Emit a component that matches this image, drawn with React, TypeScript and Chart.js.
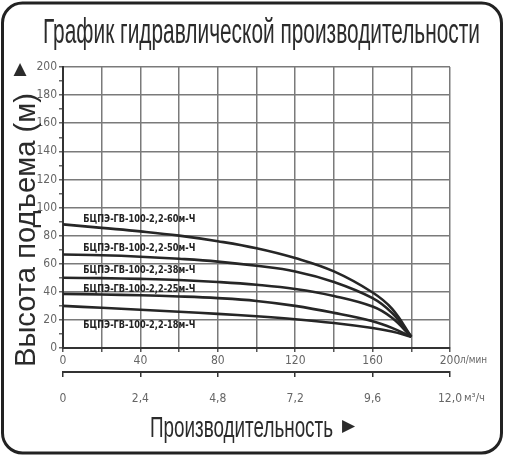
import { useEffect, useRef } from 'react';
import { Chart, registerables } from 'chart.js';

Chart.register(...registerables);

// flow, l/min
const flowLpm = [0, 20, 40, 60, 80, 100, 120, 140, 160, 170, 180];

// head (m) per pump model
const head60 = [88, 85.5, 83, 80, 76, 71, 64, 54.5, 39.5, 28, 8];
const head50 = [66.5, 66, 65, 63.5, 61.5, 58.5, 54.5, 47, 35.5, 25, 8];
const head38 = [50, 49.7, 49.2, 48.4, 47, 45, 42, 37, 29.5, 21.5, 8];
const head25 = [38.5, 38.1, 37.5, 36.7, 35.5, 33.5, 30, 25, 19, 14.3, 8];
const head18 = [30, 28.6, 27.2, 25.8, 24.3, 22.6, 20.5, 17.8, 14.2, 11.7, 8];

const modelNames = [
  'БЦПЭ-ГВ-100-2,2-60м-Ч',
  'БЦПЭ-ГВ-100-2,2-50м-Ч',
  'БЦПЭ-ГВ-100-2,2-38м-Ч',
  'БЦПЭ-ГВ-100-2,2-25м-Ч',
  'БЦПЭ-ГВ-100-2,2-18м-Ч',
];
const modelHeads = [head60, head50, head38, head25, head18];

// where each model name sits, in data units (flow, head)
const nameFlow = 10.5;
const nameHead = [92, 71, 55.5, 42, 16];

const cubicTickLabels = ['0', '2,4', '4,8', '7,2', '9,6', '12,0'];

const chartTitle = 'График гидравлической производительности';
const yTitle = 'Высота подъема (м)';
const xTitle = 'Производительность';

const NARROW = "'Liberation Sans Narrow', 'DejaVu Sans Condensed', 'Liberation Sans', sans-serif";
const SANS = "'Liberation Sans', Arial, sans-serif";

// draws text squeezed horizontally to a given width
function squeeze(ctx: CanvasRenderingContext2D, text: string, x: number, y: number, width: number) {
  const w = ctx.measureText(text).width;
  ctx.save();
  ctx.translate(x, y);
  ctx.scale(width / w, 1);
  ctx.textAlign = 'left';
  ctx.fillText(text, 0, 0);
  ctx.restore();
}

const decor = {
  id: 'decor',
  beforeDraw(chart: Chart) {
    const ctx = chart.ctx;
    ctx.save();
    ctx.fillStyle = '#fff';
    ctx.fillRect(0, 0, chart.width, chart.height);
    ctx.restore();
  },
  afterDraw(chart: Chart) {
    const ctx = chart.ctx;
    const x = chart.scales.x;
    const x2 = chart.scales.x2;
    const y = chart.scales.y;
    ctx.save();

    // frame
    ctx.strokeStyle = '#222';
    ctx.lineWidth = 3;
    ctx.beginPath();
    ctx.roundRect(2.5, 3, 499, 450, 20);
    ctx.stroke();

    // main title
    ctx.fillStyle = '#2b2b2b';
    ctx.textBaseline = 'alphabetic';
    ctx.font = `35px ${SANS}`;
    squeeze(ctx, chartTitle, 43, 43, 437);

    // x title
    ctx.font = `30px ${SANS}`;
    squeeze(ctx, xTitle, 150, 437, 183);
    ctx.font = `17px 'DejaVu Sans', sans-serif`;
    ctx.textBaseline = 'middle';
    ctx.fillText('▶', 342, 427);

    // y title
    ctx.save();
    ctx.translate(35, 367);
    ctx.rotate(-Math.PI / 2);
    ctx.font = `30px ${SANS}`;
    ctx.textBaseline = 'alphabetic';
    squeeze(ctx, yTitle, 0, 0, 274);
    ctx.restore();
    ctx.font = `17px 'DejaVu Sans', sans-serif`;
    ctx.textAlign = 'center';
    ctx.textBaseline = 'middle';
    ctx.fillText('▲', 20, 70);

    // units
    ctx.fillStyle = '#666';
    ctx.font = `10px ${NARROW}`;
    ctx.textBaseline = 'middle';
    squeeze(ctx, 'л/мин', x.getPixelForValue(200) + 10, 360, 27);
    squeeze(ctx, 'м³/ч', x2.getPixelForValue(12) + 14, 398, 21);

    // model names
    ctx.fillStyle = '#222';
    ctx.font = `bold 11px ${NARROW}`;
    modelNames.forEach((name, i) => {
      squeeze(ctx, name, x.getPixelForValue(nameFlow), y.getPixelForValue(nameHead[i]), 112);
    });

    ctx.restore();
  },
};

const gridColor = '#7a7a7a';
const tickFont = { family: NARROW, size: 12 };

const App = () => {
  const canvasRef = useRef<HTMLCanvasElement | null>(null);
  const chartRef = useRef<Chart | null>(null);

  useEffect(() => {
    if (!canvasRef.current) return;
    document.body.style.margin = '0';

    chartRef.current = new Chart(canvasRef.current, {
      type: 'line',
      data: {
        datasets: modelHeads.map((heads, i) => ({
          label: modelNames[i],
          data: flowLpm.map((f, j) => ({ x: f, y: heads[j] })),
          borderColor: '#262626',
          borderWidth: 2.6,
          pointRadius: 0,
          tension: 0.4,
          fill: false,
        })),
      },
      options: {
        animation: false,
        responsive: false,
        layout: { padding: { left: 28, right: 58, top: 67, bottom: 54 } },
        plugins: {
          legend: { display: false },
          tooltip: { enabled: false },
        },
        scales: {
          x: {
            type: 'linear',
            position: 'bottom',
            min: 0,
            max: 200,
            ticks: {
              stepSize: 20,
              autoSkip: false,
              maxRotation: 0,
              padding: 2,
              color: '#666',
              font: tickFont,
              callback: (v) => (Number(v) % 40 === 0 ? String(v) : ''),
            },
            grid: { color: gridColor, lineWidth: 1.5, tickLength: 4, tickColor: '#555' },
            border: { color: '#333', width: 2 },
            afterFit: (s) => {
              s.height = 24;
            },
          },
          x2: {
            type: 'linear',
            position: 'bottom',
            min: 0,
            max: 12,
            ticks: {
              stepSize: 2.4,
              autoSkip: false,
              maxRotation: 0,
              padding: 15,
              color: '#666',
              font: tickFont,
              callback: (_v, i) => cubicTickLabels[i] ?? '',
            },
            grid: { drawOnChartArea: false, tickLength: 5, color: '#333', lineWidth: 1.5 },
            border: { color: '#333', width: 2 },
            afterFit: (s) => {
              s.height = 34;
            },
          },
          y: {
            type: 'linear',
            min: 0,
            max: 200,
            ticks: {
              stepSize: 10,
              autoSkip: false,
              padding: 2,
              color: '#666',
              font: tickFont,
              callback: (v) => (Number(v) % 20 === 0 ? String(v) : ''),
            },
            grid: {
              color: (c) => (c.tick && c.tick.value % 20 === 0 ? gridColor : 'rgba(0,0,0,0)'),
              lineWidth: 1.5,
              tickLength: 4,
              tickColor: '#666',
            },
            border: { color: '#333', width: 2 },
            afterFit: (s) => {
              s.width = 35;
            },
          },
        },
      },
      plugins: [decor],
    });

    return () => {
      if (chartRef.current) {
        chartRef.current.destroy();
        chartRef.current = null;
      }
    };
  }, []);

  return (
    <div style={{ width: 508, height: 460 }}>
      <canvas ref={canvasRef} width={508} height={460}></canvas>
    </div>
  );
};

export default App;
